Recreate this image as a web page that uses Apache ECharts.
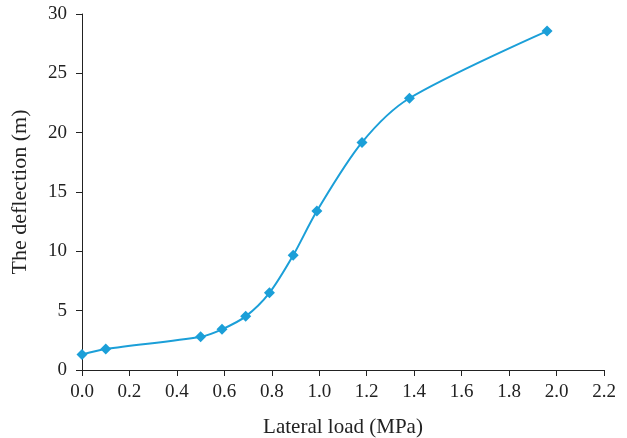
<!DOCTYPE html>
<html><head><meta charset="utf-8">
<script src="https://cdn.jsdelivr.net/npm/echarts@6/dist/echarts.min.js"></script>
<style>html,body{margin:0;padding:0;background:#fff}#c{width:627px;height:438px}</style>
</head><body><div id="c"></div>
<script>
const loadMPa = [0, 0.1, 0.5, 0.59, 0.69, 0.79, 0.89, 0.99, 1.18, 1.38, 1.96];
const deflection = [1.3, 1.77, 2.8, 3.43, 4.52, 6.5, 9.66, 13.4, 19.18, 22.9, 28.56];
const xTitle = 'Lateral load (MPa)';
const yTitle = 'The deflection (m)';

const chart = echarts.init(document.getElementById('c'));
const font = 'Liberation Serif';
chart.setOption({
  animation: false,
  grid: {left: 82, right: 23, top: 14, bottom: 68, containLabel: false, outerBoundsMode: 'none'},
  xAxis: {
    type: 'value', min: 0, max: 2.2, interval: 0.2,
    name: xTitle, nameLocation: 'middle', nameGap: 47,
    nameTextStyle: {fontFamily: font, fontSize: 21, color: '#222'},
    axisLine: {show: true, lineStyle: {color: '#222', width: 1}},
    axisTick: {show: true, length: 6, lineStyle: {color: '#222'}},
    axisLabel: {fontFamily: font, fontSize: 19, color: '#222', margin: 13,
      formatter: v => v.toFixed(1)},
    splitLine: {show: false}
  },
  yAxis: {
    type: 'value', min: 0, max: 30, interval: 5,
    name: yTitle, nameLocation: 'middle', nameGap: 51, nameRotate: 90,
    nameTextStyle: {fontFamily: font, fontSize: 22, color: '#222'},
    axisLine: {show: true, lineStyle: {color: '#222', width: 1}},
    axisTick: {show: true, length: 6, lineStyle: {color: '#222'}},
    axisLabel: {fontFamily: font, fontSize: 19, color: '#222', margin: 15},
    splitLine: {show: false}
  },
  series: [{
    type: 'line',
    data: loadMPa.map((x, i) => [x, deflection[i]]),
    smooth: 0.3,
    symbol: 'diamond', symbolSize: 11,
    lineStyle: {color: '#1b9fd8', width: 2},
    itemStyle: {color: '#1b9fd8'}
  }]
});
</script></body></html>
